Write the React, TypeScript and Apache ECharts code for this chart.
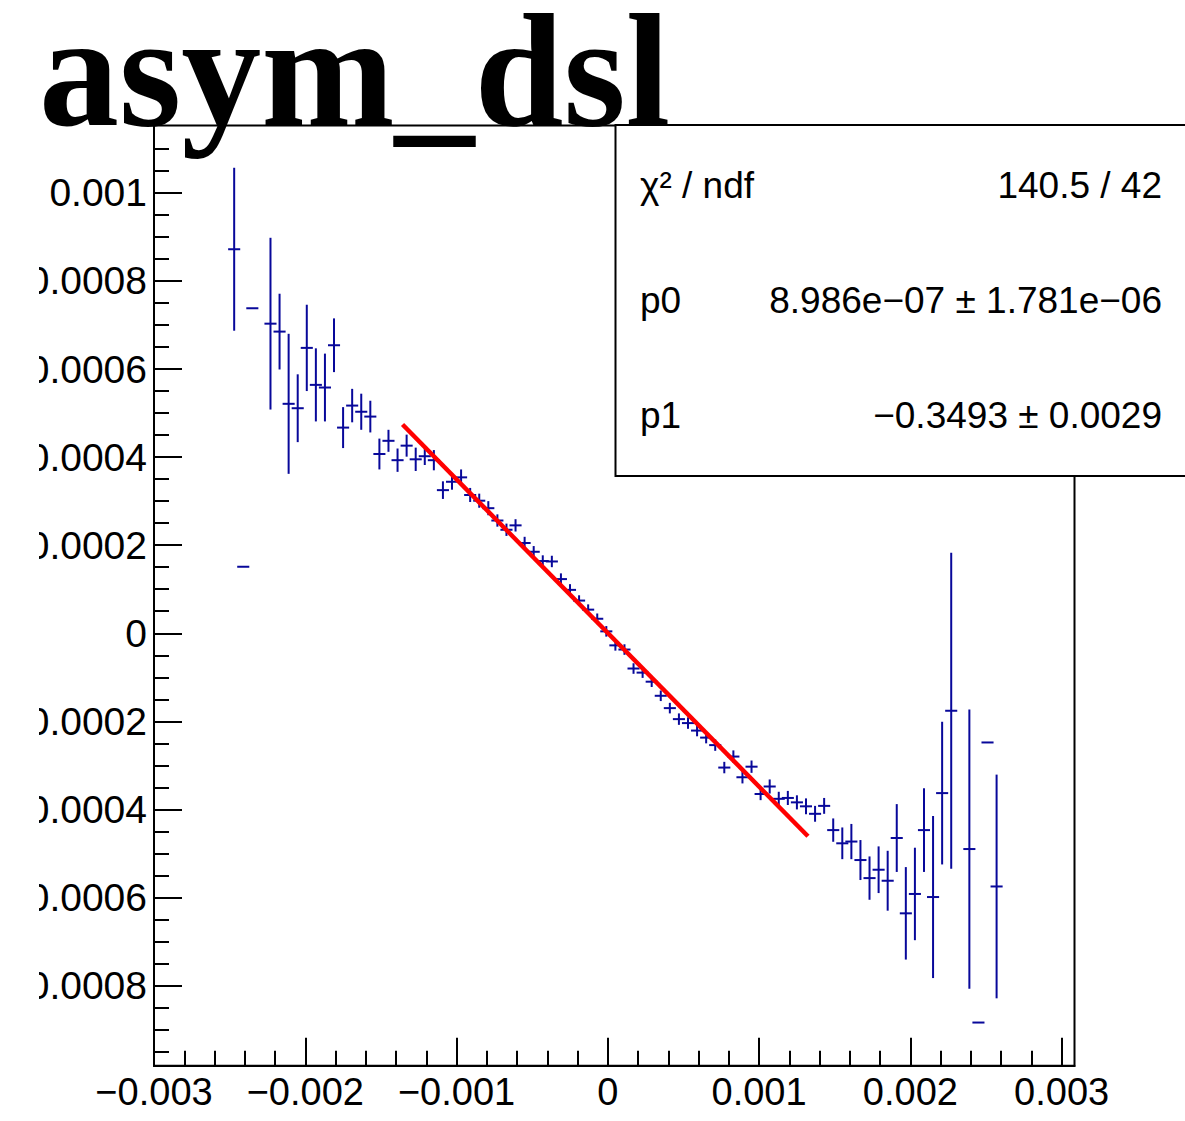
import React, { useEffect, useRef } from "react";
import * as echarts from "echarts";

// ---- Axis ranges / ticks ----
const X_MIN = -0.003;
const X_MAX = 0.003085;
const Y_MIN = -0.000982;
const Y_MAX = 0.001153;

const xTickValues = [-0.003, -0.002, -0.001, 0, 0.001, 0.002, 0.003];
const xTickLabels = ["−0.003", "−0.002", "−0.001", "0", "0.001", "0.002", "0.003"];
const xMinorStep = 0.0002;

const yTickValues = [-0.0008, -0.0006, -0.0004, -0.0002, 0, 0.0002, 0.0004, 0.0006, 0.0008, 0.001];
const yTickLabels = ["−0.0008", "−0.0006", "−0.0004", "−0.0002", "0", "0.0002", "0.0004", "0.0006", "0.0008", "0.001"];
const yMinorStep = 0.00005;

// ---- Histogram bins (centres, contents, errors) ----
const binCenters = [
  -0.00247, -0.00241, -0.00235, -0.00223, -0.00217, -0.00211, -0.00205, -0.00199, -0.00193, -0.00187,
  -0.00181, -0.00175, -0.00169, -0.00163, -0.00157, -0.00151, -0.00145, -0.00139, -0.00133, -0.00127,
  -0.00121, -0.00115, -0.00109, -0.00103, -0.00097, -0.00091, -0.00085, -0.00079, -0.00073, -0.00067,
  -0.00061, -0.00055, -0.00049, -0.00043, -0.00037, -0.00031, -0.00025, -0.00019, -0.00013, -0.00007,
  -0.00001, 0.00005, 0.00011, 0.00017, 0.00023, 0.00029, 0.00035, 0.00041, 0.00047, 0.00053,
  0.00059, 0.00065, 0.00071, 0.00077, 0.00083, 0.00089, 0.00095, 0.00101, 0.00107, 0.00113,
  0.00119, 0.00125, 0.00131, 0.00137, 0.00143, 0.00149, 0.00155, 0.00161, 0.00167, 0.00173,
  0.00179, 0.00185, 0.00191, 0.00197, 0.00203, 0.00209, 0.00215, 0.00221, 0.00227, 0.00239,
  0.00245, 0.00251, 0.00257,
];
const binValues = [
  0.000872, 0.000151, 0.000738, 0.000703, 0.000685, 0.000521, 0.000511, 0.000648, 0.000564, 0.000558,
  0.000654, 0.000467, 0.000517, 0.000503, 0.000492, 0.000407, 0.000437, 0.000393, 0.000426, 0.000395,
  0.000402, 0.000393, 0.000325, 0.000344, 0.000354, 0.000314, 0.000301, 0.000284, 0.000256, 0.000235,
  0.000245, 0.000205, 0.000185, 0.000164, 0.000163, 0.000123, 0.0000985, 0.0000742, 0.0000536, 0.0000329,
  0.0000043, -0.0000275, -0.000037, -0.0000801, -0.0000894, -0.00011, -0.000142, -0.00017, -0.000195, -0.000204,
  -0.000221, -0.000237, -0.000254, -0.000305, -0.00028, -0.000327, -0.000303, -0.000365, -0.000348, -0.000376,
  -0.000374, -0.000384, -0.000393, -0.00041, -0.000392, -0.000447, -0.000477, -0.000473, -0.000515, -0.000556,
  -0.000537, -0.000562, -0.000465, -0.000636, -0.000592, -0.000447, -0.000599, -0.000363, -0.000176, -0.00049,
  -0.000884, -0.000248, -0.000575,
];
const binErrors = [
  0.000185, 0, 0, 0.000195, 0.000086, 0.000159, 0.000077, 0.000098, 0.000083, 0.000077,
  0.000061, 0.0000465, 0.000038, 0.000041, 0.000036, 0.000035, 0.000025, 0.0000265, 0.000025, 0.0000265,
  0.00002, 0.000023, 0.00002, 0.000018, 0.000018, 0.000016, 0.000016, 0.000016, 0.000014, 0.000014,
  0.000014, 0.000014, 0.000013, 0.000013, 0.000013, 0.000013, 0.000013, 0.000012, 0.000012, 0.000012,
  0.000012, 0.000012, 0.000012, 0.000012, 0.000012, 0.000012, 0.000012, 0.000012, 0.000013, 0.000013,
  0.000013, 0.000013, 0.000013, 0.000013, 0.000014, 0.000014, 0.000014, 0.000014, 0.000016, 0.000016,
  0.000016, 0.000016, 0.000018, 0.000018, 0.000018, 0.0000265, 0.000036, 0.00004, 0.0000454, 0.0000492,
  0.000053, 0.000068, 0.000077, 0.000105, 0.000105, 0.000095, 0.000184, 0.000162, 0.000359, 0.000317,
  0, 0, 0.000254,
];
const binHalfWidth = 0.00003;

// ---- Fit line (pol1) endpoints ----
const fitX = [-0.001357, 0.001323];
const fitY = [0.000474, -0.000461];

// ---- Stat box ----
const statLabels = ["χ² / ndf", "p0", "p1"];
const statValues = ["140.5 / 42", "8.986e−07 ± 1.781e−06", "−0.3493 ± 0.0029"];

const SANS = "'Liberation Sans', Arial, Helvetica, sans-serif";
const SERIF = "'Liberation Serif', 'Times New Roman', serif";
const BLUE = "#08089a";

function fmt(vals: number[], labels: string[]) {
  return (v: number) => {
    const i = vals.findIndex((t) => Math.abs(t - v) < 1e-9);
    return i >= 0 ? labels[i] : "";
  };
}

function minorTicks(min: number, max: number, step: number, majors: number[]) {
  const out: number[] = [];
  const start = Math.ceil(min / step);
  const end = Math.floor(max / step);
  for (let i = start; i <= end; i++) {
    const v = +(i * step).toFixed(8);
    if (v <= min + step * 0.2 || v >= max - step * 0.2) continue;
    if (majors.some((m) => Math.abs(m - v) < 1e-9)) continue;
    out.push(v);
  }
  return out;
}

export default function App() {
  const ref = useRef<HTMLDivElement>(null);

  useEffect(() => {
    if (!ref.current) return;
    const chart = echarts.init(ref.current, null, { renderer: "svg" });

    const xMinor = minorTicks(X_MIN, X_MAX, xMinorStep, xTickValues);
    const yMinor = minorTicks(Y_MIN, Y_MAX, yMinorStep, yTickValues);

    const points = binCenters.map((x, i) => [x, binValues[i], binErrors[i]]);
    const fitData = fitX.map((x, i) => [x, fitY[i]]);

    const tickLine = { color: "#000", width: 2 };

    const statRowY = [185, 300, 415];
    const statGraphics: any[] = [];
    statLabels.forEach((lab, i) => {
      statGraphics.push({
        type: "text",
        x: 640,
        y: statRowY[i],
        z: 120,
        style: {
          text: lab,
          fill: "#000",
          fontFamily: SANS,
          fontSize: 37,
          align: "left",
          verticalAlign: "middle",
        },
      });
      statGraphics.push({
        type: "text",
        x: 1162,
        y: statRowY[i],
        z: 120,
        style: {
          text: statValues[i],
          fill: "#000",
          fontFamily: SANS,
          fontSize: 37,
          align: "right",
          verticalAlign: "middle",
        },
      });
    });

    const option: any = {
      animation: false,
      backgroundColor: "#ffffff",
      grid: {
        left: 154,
        top: 125.5,
        right: 110.5,
        bottom: 55.3,
        show: true,
        borderColor: "#000",
        borderWidth: 2,
        backgroundColor: "transparent",
        containLabel: false,
        outerBoundsMode: "none",
      },
      xAxis: [
        {
          type: "value",
          min: X_MIN,
          max: X_MAX,
          position: "bottom",
          axisLine: { show: true, onZero: false, lineStyle: tickLine },
          axisTick: { show: true, inside: true, length: 28, lineStyle: tickLine, customValues: xTickValues },
          axisLabel: {
            show: true,
            customValues: xTickValues,
            formatter: fmt(xTickValues, xTickLabels),
            color: "#000",
            fontFamily: SANS,
            fontSize: 38,
            margin: 26,
            verticalAlign: "middle",
            showMinLabel: true,
            showMaxLabel: true,
          },
          splitLine: { show: false },
        },
        {
          type: "value",
          min: X_MIN,
          max: X_MAX,
          position: "bottom",
          offset: 0,
          axisLine: { show: false, onZero: false },
          axisTick: { show: true, inside: true, length: 15, lineStyle: tickLine, customValues: xMinor },
          axisLabel: { show: false },
          splitLine: { show: false },
        },
      ],
      yAxis: [
        {
          type: "value",
          min: Y_MIN,
          max: Y_MAX,
          position: "left",
          axisLine: { show: true, onZero: false, lineStyle: tickLine },
          axisTick: { show: true, inside: true, length: 28, lineStyle: tickLine, customValues: yTickValues },
          axisLabel: {
            show: true,
            customValues: yTickValues,
            formatter: fmt(yTickValues, yTickLabels),
            color: "#000",
            fontFamily: SANS,
            fontSize: 39,
            margin: 7,
          },
          splitLine: { show: false },
        },
        {
          type: "value",
          min: Y_MIN,
          max: Y_MAX,
          position: "left",
          offset: 0,
          axisLine: { show: false, onZero: false },
          axisTick: { show: true, inside: true, length: 15, lineStyle: tickLine, customValues: yMinor },
          axisLabel: { show: false },
          splitLine: { show: false },
        },
      ],
      series: [
        {
          type: "custom",
          xAxisIndex: 0,
          yAxisIndex: 0,
          data: points,
          encode: { x: 0, y: 1 },
          z: 3,
          renderItem: (params: any, api: any) => {
            const x = api.value(0);
            const y = api.value(1);
            const e = api.value(2);
            const l = api.coord([x - binHalfWidth, y]);
            const r = api.coord([x + binHalfWidth, y]);
            const children: any[] = [
              {
                type: "line",
                shape: { x1: l[0] - 1.5, y1: l[1], x2: r[0] + 1.5, y2: r[1] },
                style: { stroke: BLUE, lineWidth: 2 },
              },
            ];
            if (e > 0) {
              const t = api.coord([x, y + e]);
              const b = api.coord([x, y - e]);
              children.push({
                type: "line",
                shape: { x1: t[0], y1: t[1], x2: b[0], y2: b[1] },
                style: { stroke: BLUE, lineWidth: 2 },
              });
            }
            return { type: "group", children };
          },
        },
        {
          type: "line",
          xAxisIndex: 0,
          yAxisIndex: 0,
          data: fitData,
          showSymbol: false,
          symbol: "none",
          z: 5,
          lineStyle: { color: "#ff0000", width: 4.5 },
        },
      ],
      graphic: [
        {
          type: "text",
          x: 39,
          y: 71,
          z: 110,
          style: {
            text: "asym_dsl",
            fill: "#000",
            fontFamily: SERIF,
            fontWeight: "bold",
            fontSize: 160,
            lineHeight: 136,
            align: "left",
            verticalAlign: "middle",
          },
        },
        {
          type: "rect",
          z: 100,
          shape: { x: 615.5, y: 125, width: 620, height: 351 },
          style: { fill: "#fff", stroke: "#000", lineWidth: 2 },
        },
        ...statGraphics,
        {
          type: "rect",
          z: 200,
          shape: { x: 0, y: 150, width: 39, height: 870 },
          style: { fill: "#fff" },
        },
      ],
    };

    chart.setOption(option);
    return () => chart.dispose();
  }, []);

  return (
    <div
      ref={ref}
      style={{ position: "absolute", left: 0, top: 0, width: 1185, height: 1121, background: "#fff" }}
    />
  );
}
